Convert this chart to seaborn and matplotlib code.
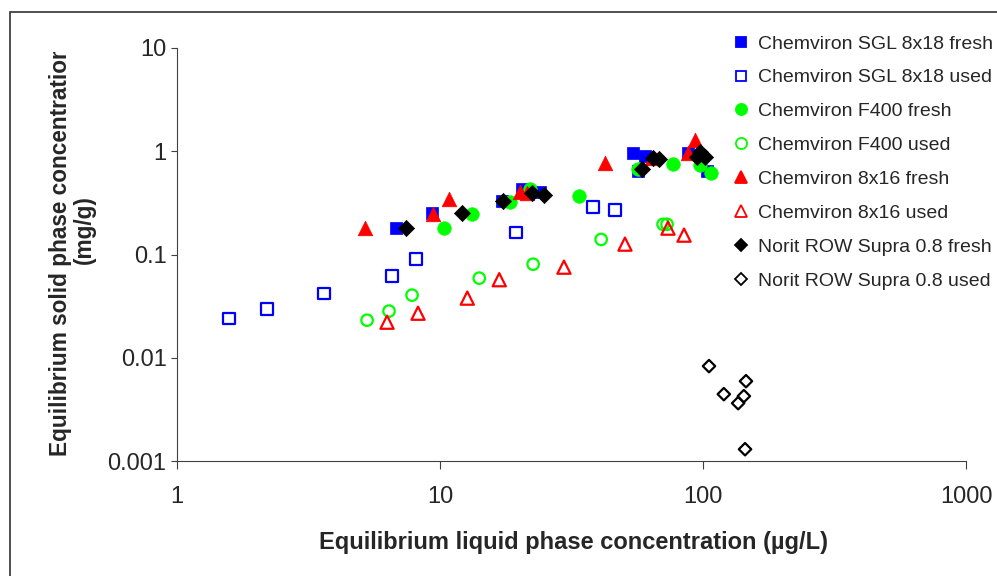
import numpy as np
import pandas as pd
import matplotlib
matplotlib.use("Agg")
import matplotlib.pyplot as plt
from matplotlib.lines import Line2D
from matplotlib.patches import Rectangle
from matplotlib.transforms import Bbox
import seaborn as sns

# ---------------- data ----------------
series_names = [
    "Chemviron SGL 8x18 fresh", "Chemviron SGL 8x18 used",
    "Chemviron F400 fresh", "Chemviron F400 used",
    "Chemviron 8x16 fresh", "Chemviron 8x16 used",
    "Norit ROW Supra 0.8 fresh", "Norit ROW Supra 0.8 used",
]

sgl_fresh_x = [6.8, 9.3, 17.2, 20.5, 24.0, 54.2, 60.0, 56.6, 87.7, 104]
sgl_fresh_y = [0.18, 0.25, 0.33, 0.43, 0.40, 0.96, 0.89, 0.65, 0.96, 0.64]

sgl_used_x = [1.58, 2.2, 3.62, 6.57, 8.1, 19.5, 38.2, 46.3]
sgl_used_y = [0.024, 0.0296, 0.042, 0.0617, 0.090, 0.164, 0.287, 0.268]

f400_fresh_x = [10.4, 13.2, 18.5, 22.0, 33.8, 56.6, 76.9, 97.5, 107]
f400_fresh_y = [0.18, 0.245, 0.32, 0.43, 0.367, 0.68, 0.75, 0.73, 0.61]

f400_used_x = [5.28, 6.4, 7.83, 14.1, 22.6, 41.0, 70.5, 73.0]
f400_used_y = [0.0231, 0.0283, 0.0404, 0.059, 0.0805, 0.14, 0.196, 0.196]

c816_fresh_x = [5.19, 9.4, 10.8, 20.1, 21.5, 42.4, 64.0, 93.2, 87.7]
c816_fresh_y = [0.18, 0.245, 0.343, 0.40, 0.39, 0.765, 0.855, 1.28, 0.96]

c816_used_x = [6.29, 8.25, 12.7, 16.8, 29.6, 50.5, 73.6, 84.7]
c816_used_y = [0.0221, 0.027, 0.0378, 0.057, 0.0754, 0.126, 0.18, 0.154]

norit_fresh_x = [7.42, 12.1, 17.3, 22.4, 24.9, 58.6, 64.5, 68.0, 94.9, 97.5, 101.8]
norit_fresh_y = [0.18, 0.25, 0.33, 0.39, 0.375, 0.68, 0.86, 0.84, 0.875, 0.98, 0.875]

norit_used_x = [105.4, 145.7, 120, 143, 136, 144.5]
norit_used_y = [0.0083, 0.00593, 0.00444, 0.00425, 0.00363, 0.0013]

x_ticks = [1, 10, 100, 1000]
x_tick_labels = ["1", "10", "100", "1000"]
y_ticks = [0.001, 0.01, 0.1, 1, 10]
y_tick_labels = ["0.001", "0.01", "0.1", "1", "10"]

x_label = "Equilibrium liquid phase concentration (\u00b5g/L)"
y_label_line1 = "Equilibrium solid phase concentration"
y_label_line2 = "(mg/g)"

# ---------------- styling ----------------
sns.set_theme(style="white")
plt.rcParams["font.family"] = ["Liberation Sans", "DejaVu Sans"]

BLUE, GREEN, RED, BLACK = "#0000FF", "#00FF00", "#FF0000", "#000000"

series = [
    (sgl_fresh_x, sgl_fresh_y, "s", BLUE, True, 85),
    (sgl_used_x, sgl_used_y, "s", BLUE, False, 70),
    (f400_fresh_x, f400_fresh_y, "o", GREEN, True, 95),
    (f400_used_x, f400_used_y, "o", GREEN, False, 68),
    (c816_fresh_x, c816_fresh_y, "^", RED, True, 110),
    (c816_used_x, c816_used_y, "^", RED, False, 90),
    (norit_fresh_x, norit_fresh_y, "D", BLACK, True, 68),
    (norit_used_x, norit_used_y, "D", BLACK, False, 40),
]

fig = plt.figure(figsize=(9.97, 5.76), dpi=100)
fig.patch.set_facecolor("white")
ax = fig.add_axes([177 / 997, 1 - 461 / 576, (966 - 177) / 997, (461 - 48) / 576])
ax.set_facecolor("white")

for (xs, ys, mk, col, filled, size), name in zip(series, series_names):
    df = pd.DataFrame({"x": xs, "y": ys})
    if filled:
        sns.scatterplot(data=df, x="x", y="y", marker=mk, s=size, color=col,
                        edgecolor=col, linewidth=0.5, ax=ax, legend=False,
                        zorder=3, clip_on=False)
    else:
        sns.scatterplot(data=df, x="x", y="y", marker=mk, s=size, color=col,
                        facecolors="none", edgecolor=col, linewidth=1.6,
                        ax=ax, legend=False, zorder=3, clip_on=False)

ax.set_xscale("log")
ax.set_yscale("log")
ax.set_xlim(1, 1000)
ax.set_ylim(0.001, 10)
ax.set_xticks(x_ticks)
ax.set_xticklabels(x_tick_labels)
ax.set_yticks(y_ticks)
ax.set_yticklabels(y_tick_labels)
ax.minorticks_off()
ax.set_xlabel("")
ax.set_ylabel("")

for side in ["top", "right"]:
    ax.spines[side].set_visible(False)
for side in ["left", "bottom"]:
    ax.spines[side].set_color("#404040")
    ax.spines[side].set_linewidth(0.8)

ax.tick_params(axis="x", which="major", direction="out", length=6, width=0.8,
               color="#404040", labelsize=17, pad=12, bottom=True)
ax.tick_params(axis="y", which="major", direction="out", length=4.5, width=0.8,
               color="#404040", labelsize=17, pad=3, left=True)

# x label
fig.text(573 / 997, 1 - 543 / 576, x_label, ha="center", va="center",
         fontsize=17, fontweight="bold")

# y label (two lines, first one clipped at its top end like the reference)
t1 = fig.text(60 / 997, 1 - 456 / 576, y_label_line1, rotation=90,
              rotation_mode="anchor", ha="left", va="center",
              fontsize=16.3, fontweight="bold")
fig.text(84 / 997, 1 - 230 / 576, y_label_line2, rotation=90,
         ha="center", va="center", fontsize=16.3, fontweight="bold")

# legend
handles = []
for (xs, ys, mk, col, filled, size), name in zip(series, series_names):
    ms = {"s": 7.5, "o": 8, "^": 8.5, "D": 6.5}[mk]
    handles.append(Line2D([], [], ls="none", marker=mk, markersize=ms,
                          markerfacecolor=col if filled else "none",
                          markeredgecolor=col, markeredgewidth=1.3))
fig.legend(handles, series_names, loc="upper left",
           bbox_to_anchor=(733 / 997, 1 - 35 / 576),
           bbox_transform=fig.transFigure, frameon=False, fontsize=14,
           handlelength=0.8, handletextpad=0.5, labelspacing=0.835,
           borderpad=0, borderaxespad=0)

# figure border
fig.patches.append(Rectangle((10 / 997, -0.05), 1.2, 1 - 12 / 576 + 0.05,
                             transform=fig.transFigure, fill=False,
                             edgecolor="#303030", linewidth=1.2, clip_on=False))

fig.canvas.draw()
bb = t1.get_window_extent()
t1.set_clip_on(True)
t1.set_clip_box(Bbox([[0, 0], [997, bb.y1 - 7]]))

fig.savefig("out.png", dpi=100)
